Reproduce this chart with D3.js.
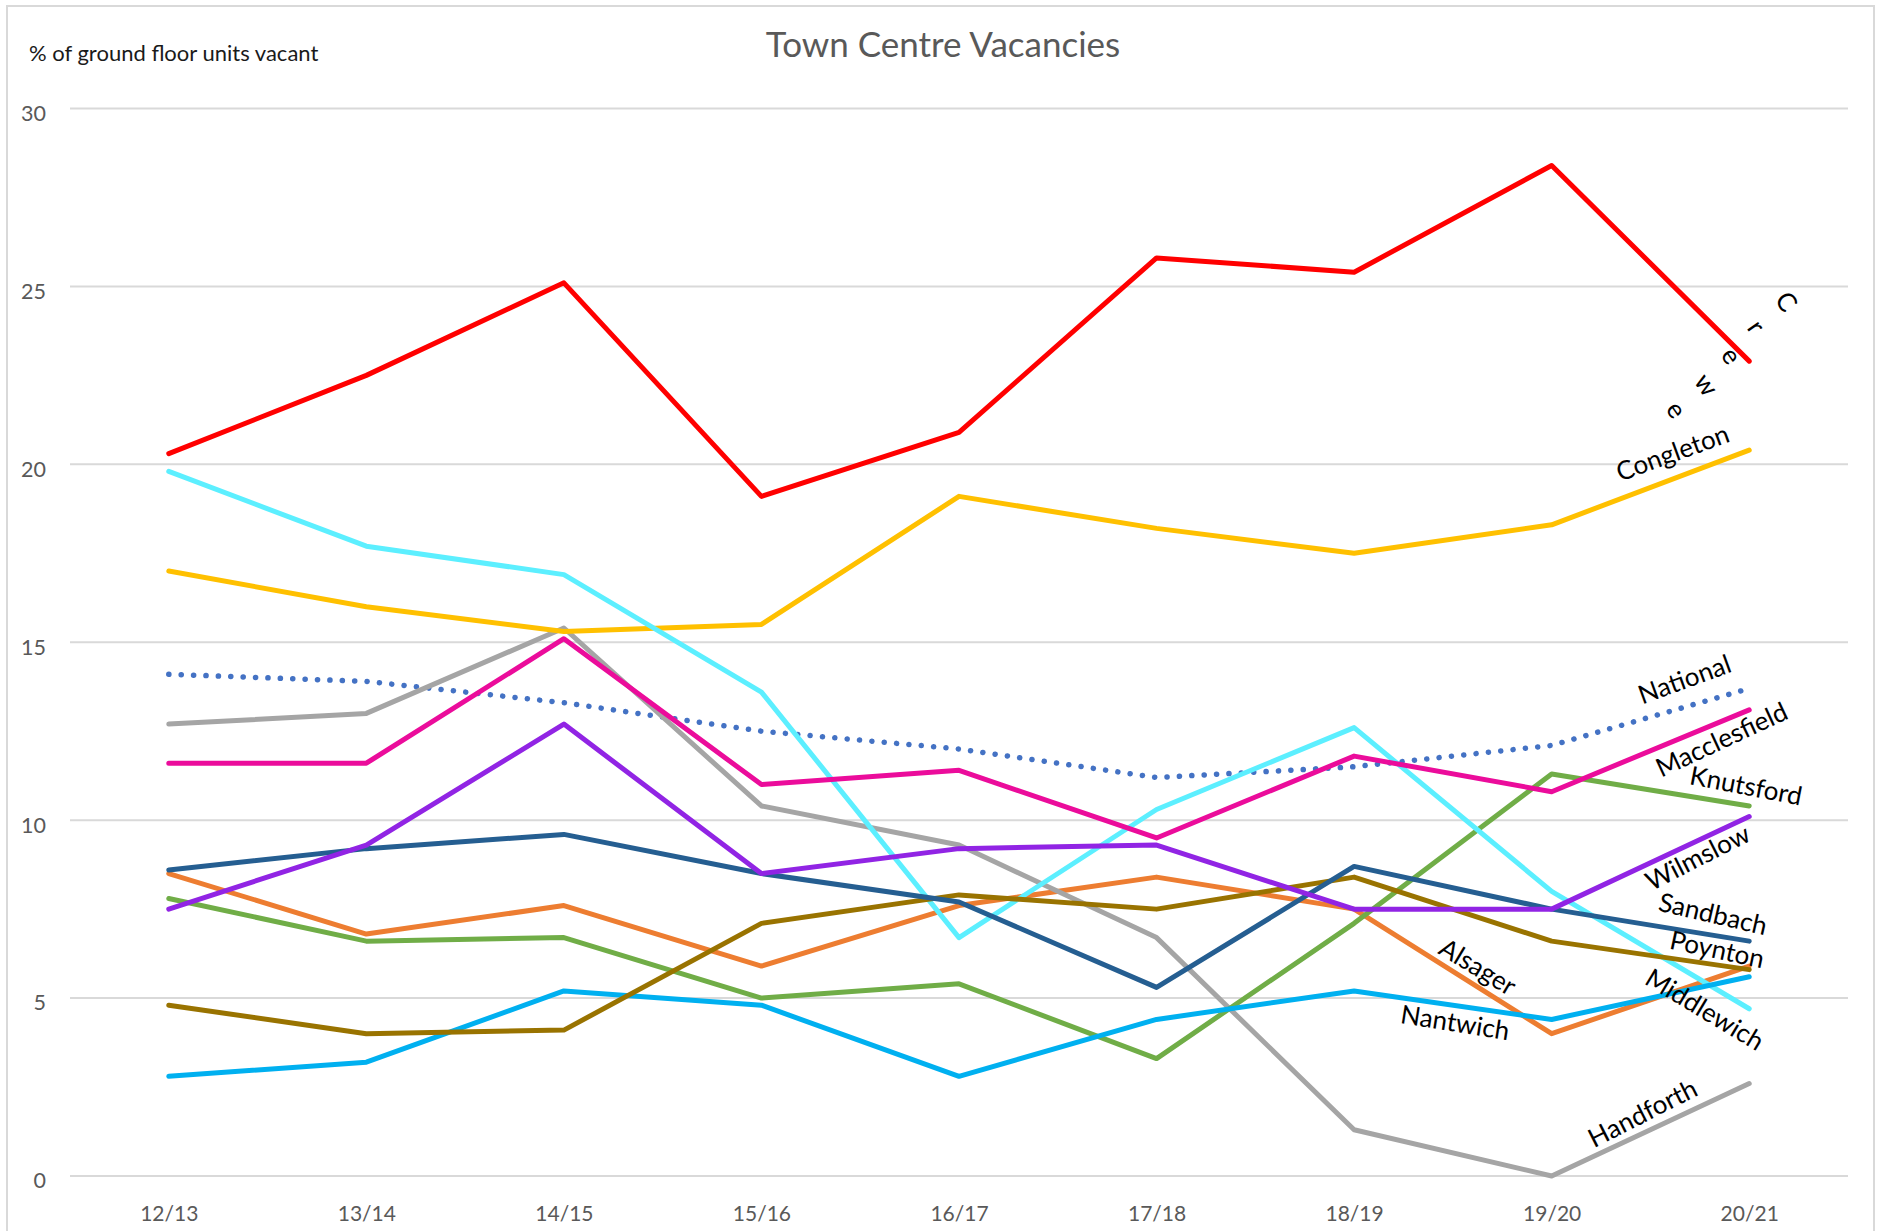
<!DOCTYPE html>
<html>
<head>
<meta charset="utf-8">
<script src="https://cdn.jsdelivr.net/npm/d3@7"></script>
<style>
  body { margin: 0; background: #fff; }
  svg { display: block; }
</style>
</head>
<body>
<div id="chart"></div>
<script>
// categories and tick labels
const years = ["12/13", "13/14", "14/15", "15/16", "16/17", "17/18", "18/19", "19/20", "20/21"];
const yTicks = [0, 5, 10, 15, 20, 25, 30];

// vacancy % per town
const national = [14.1, 13.9, 13.3, 12.5, 12.0, 11.2, 11.5, 12.1, 13.7];
const alsager = [8.5, 6.8, 7.6, 5.9, 7.6, 8.4, 7.5, 4.0, 5.9];
const handforth = [12.7, 13.0, 15.4, 10.4, 9.3, 6.7, 1.3, 0.0, 2.6];
const congleton = [17.0, 16.0, 15.3, 15.5, 19.1, 18.2, 17.5, 18.3, 20.4];
const crewe = [20.3, 22.5, 25.1, 19.1, 20.9, 25.8, 25.4, 28.4, 22.9];
const knutsford = [7.8, 6.6, 6.7, 5.0, 5.4, 3.3, 7.1, 11.3, 10.4];
const middlewich = [19.8, 17.7, 16.9, 13.6, 6.7, 10.3, 12.6, 8.0, 4.7];
const nantwich = [2.8, 3.2, 5.2, 4.8, 2.8, 4.4, 5.2, 4.4, 5.6];
const poynton = [4.8, 4.0, 4.1, 7.1, 7.9, 7.5, 8.4, 6.6, 5.8];
const sandbach = [8.6, 9.2, 9.6, 8.5, 7.7, 5.3, 8.7, 7.5, 6.6];
const macclesfield = [11.6, 11.6, 15.1, 11.0, 11.4, 9.5, 11.8, 10.8, 13.1];
const wilmslow = [7.5, 9.3, 12.7, 8.5, 9.2, 9.3, 7.5, 7.5, 10.1];

const series = [
  { name: "National", values: national },
  { name: "Alsager", values: alsager },
  { name: "Handforth", values: handforth },
  { name: "Congleton", values: congleton },
  { name: "Crewe", values: crewe },
  { name: "Knutsford", values: knutsford },
  { name: "Middlewich", values: middlewich },
  { name: "Nantwich", values: nantwich },
  { name: "Poynton", values: poynton },
  { name: "Sandbach", values: sandbach },
  { name: "Macclesfield", values: macclesfield },
  { name: "Wilmslow", values: wilmslow },
];

const colors = {
  National: "#4472C4",
  Alsager: "#ED7D31",
  Handforth: "#A5A5A5",
  Congleton: "#FFC000",
  Crewe: "#FF0000",
  Knutsford: "#70AD47",
  Middlewich: "#5CEFFF",
  Nantwich: "#00B0F0",
  Poynton: "#997300",
  Sandbach: "#255E91",
  Macclesfield: "#EB0C9B",
  Wilmslow: "#9124E4",
};

// label placement relative to each series' last point (dx, dy, rotation)
const labelLayout = {
  National: [-65, -10, -20],
  Macclesfield: [-28, 29, -25],
  Knutsford: [-3, -21, 11],
  Wilmslow: [-52, 40, -27],
  Sandbach: [-36, -28, 13],
  Poynton: [-32, -21, 12],
  Middlewich: [-44, 0, 31],
  Alsager: [-271, 0, 31],
  Nantwich: [-294, 45, 9],
  Handforth: [-107, 29, -27],
  Congleton: [-77, 2, -20],
};
// Crewe's label is drawn letter by letter, spread down the line
const creweLetters = [[38, -60], [8, -35], [-17, -6], [-42, 23], [-72, 48]];

const config = {
  width: 1881,
  height: 1231,
  margin: { top: 108.5, right: 33, bottom: 55, left: 70 },
  font: "Lato, 'Open Sans', sans-serif",
};
const { width, height, margin } = config;

const svg = d3.select("#chart")
  .append("svg")
  .attr("width", width)
  .attr("height", height)
  .style("font-family", config.font);

// chart frame
svg.append("rect")
  .attr("x", 7).attr("y", 6)
  .attr("width", 1867).attr("height", 1240)
  .attr("fill", "#fff")
  .attr("stroke", "#D9D9D9")
  .attr("stroke-width", 2);

const xScale = d3.scalePoint()
  .domain(years)
  .range([margin.left, width - margin.right])
  .padding(0.5);

const yScale = d3.scaleLinear()
  .domain([0, 30])
  .range([height - margin.bottom, margin.top]);

// grid lines
svg.selectAll(".grid")
  .data(yTicks)
  .join("line")
  .attr("class", "grid")
  .attr("x1", margin.left)
  .attr("x2", width - margin.right)
  .attr("y1", (d) => yScale(d))
  .attr("y2", (d) => yScale(d))
  .attr("stroke", "#D9D9D9")
  .attr("stroke-width", 2);

// y axis labels
const yAxis = svg.append("g")
  .attr("transform", `translate(${margin.left}, 5)`)
  .call(d3.axisLeft(yScale).tickValues(yTicks).tickSize(0).tickPadding(24));
yAxis.select(".domain").remove();
yAxis.selectAll("text")
  .style("font-family", config.font)
  .style("font-size", "21.5px")
  .style("fill", "#595959");

// x axis labels
const xAxis = svg.append("g")
  .attr("transform", `translate(0, ${height - margin.bottom + 6})`)
  .call(d3.axisBottom(xScale).tickSize(0).tickPadding(24));
xAxis.select(".domain").remove();
xAxis.selectAll("text")
  .style("font-family", config.font)
  .style("font-size", "21px")
  .style("fill", "#595959");

// title and axis title
svg.append("text")
  .attr("x", 943)
  .attr("y", 43)
  .attr("text-anchor", "middle")
  .attr("dominant-baseline", "central")
  .style("font-size", "35px")
  .style("fill", "#595959")
  .text("Town Centre Vacancies");

svg.append("text")
  .attr("x", 29)
  .attr("y", 52)
  .attr("dominant-baseline", "central")
  .style("font-size", "22px")
  .style("fill", "#1a1a1a")
  .text("% of ground floor units vacant");

// lines
const line = d3.line()
  .x((d, i) => xScale(years[i]))
  .y((d) => yScale(d));

svg.selectAll(".series")
  .data(series)
  .join("path")
  .attr("class", "series")
  .attr("d", (d) => line(d.values))
  .attr("fill", "none")
  .attr("stroke", (d) => colors[d.name])
  .attr("stroke-width", (d) => (d.name === "National" ? 5.5 : 5))
  .attr("stroke-linecap", "round")
  .attr("stroke-linejoin", "round")
  .attr("stroke-dasharray", (d) => (d.name === "National" ? "0.1 12.3" : null));

// series labels
const lastX = xScale(years[years.length - 1]);
series.filter((s) => labelLayout[s.name]).forEach((s) => {
  const [dx, dy, angle] = labelLayout[s.name];
  const x = lastX + dx;
  const y = yScale(s.values[s.values.length - 1]) + dy;
  svg.append("text")
    .attr("transform", `translate(${x},${y}) rotate(${angle})`)
    .attr("text-anchor", "middle")
    .attr("dominant-baseline", "central")
    .style("font-size", "26px")
    .style("fill", "#000")
    .text(s.name);
});

const creweEndY = yScale(crewe[crewe.length - 1]);
"Crewe".split("").forEach((ch, i) => {
  const [dx, dy] = creweLetters[i];
  svg.append("text")
    .attr("transform", `translate(${lastX + dx},${creweEndY + dy}) rotate(55)`)
    .attr("text-anchor", "middle")
    .attr("dominant-baseline", "central")
    .style("font-size", "26px")
    .style("fill", "#000")
    .text(ch);
});
</script>
</body>
</html>
